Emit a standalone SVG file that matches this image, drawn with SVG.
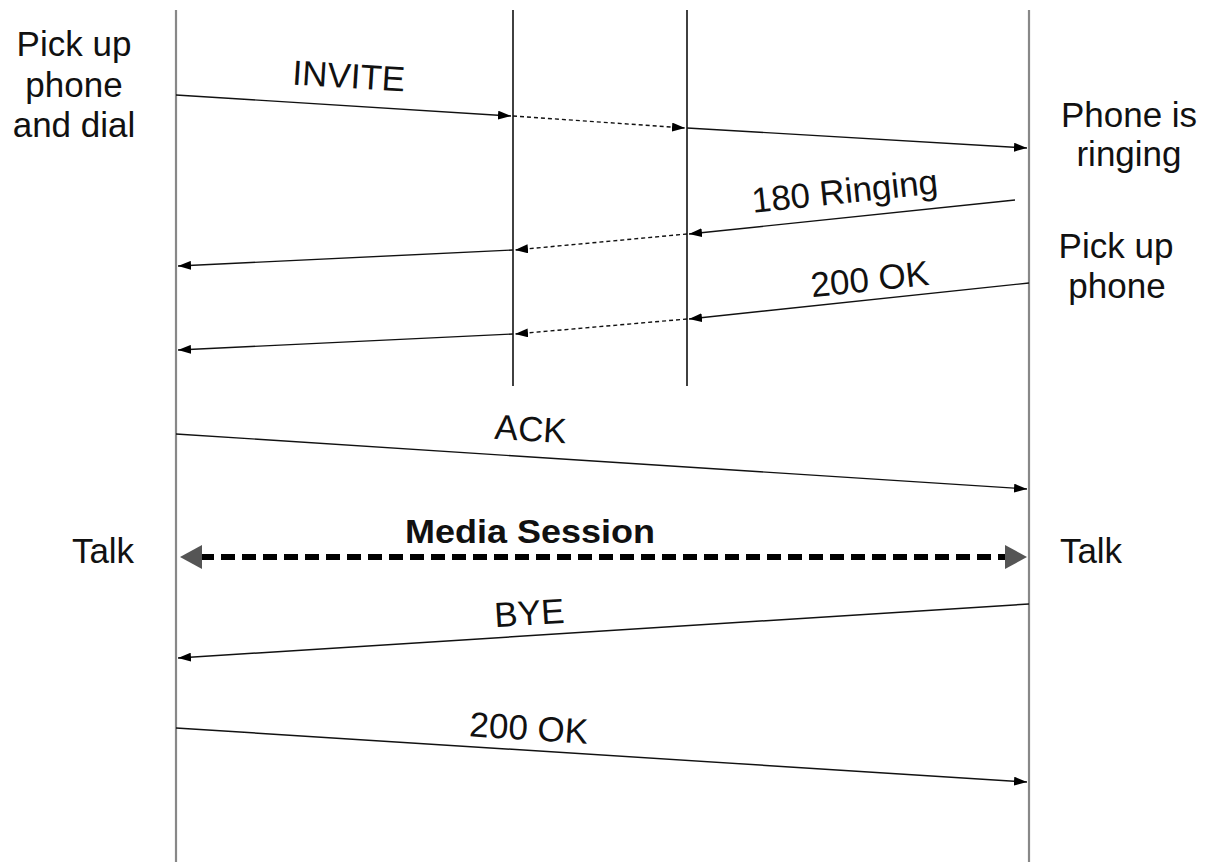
<svg xmlns="http://www.w3.org/2000/svg" width="1206" height="862" viewBox="0 0 1206 862">
<style>
text{font-family:"Liberation Sans",Arial,sans-serif;font-size:35px;fill:#111;text-anchor:middle}
.b{font-weight:bold;font-size:34px}
.lo{stroke:#888;stroke-width:2.2;fill:none}
.li{stroke:#111;stroke-width:1.6;fill:none}
.m{stroke:#111;stroke-width:1.4;fill:none;marker-end:url(#ah)}
.d{stroke:#111;stroke-width:1.4;fill:none;stroke-dasharray:4 3;marker-end:url(#ah)}
.ms{stroke:#000;stroke-width:6;fill:none;stroke-dasharray:14 7}
</style>
<defs>
<marker id="ah" markerUnits="userSpaceOnUse" markerWidth="14" markerHeight="9" refX="13" refY="4.5" orient="auto">
<path d="M0,0 L13,4.5 L0,9 z" fill="#000"/>
</marker>
</defs>
<rect width="1206" height="862" fill="#fff"/>
<g id="lifelines">
<line class="lo" x1="176" y1="10" x2="176" y2="862"/>
<line class="li" x1="513" y1="10" x2="513" y2="386"/>
<line class="li" x1="687" y1="10" x2="687" y2="386"/>
<line class="lo" x1="1029" y1="10" x2="1029" y2="862"/>
</g>
<g id="connectors">
<line class="m" x1="176" y1="95" x2="511" y2="116"/>
<line class="d" x1="513" y1="116" x2="685" y2="128"/>
<line class="m" x1="687" y1="128" x2="1027" y2="148"/>
<line class="m" x1="1015" y1="200" x2="689" y2="234"/>
<line class="d" x1="687" y1="234" x2="515" y2="250"/>
<line class="m" x1="513" y1="250" x2="178" y2="266"/>
<line class="m" x1="1029" y1="283" x2="689" y2="319"/>
<line class="d" x1="687" y1="319" x2="515" y2="334"/>
<line class="m" x1="513" y1="334" x2="178" y2="350"/>
<line class="m" x1="176" y1="434" x2="1027" y2="489"/>
<line class="ms" x1="200" y1="557" x2="1005" y2="557"/>
<path d="M180,557 L202,545 L202,569 z" fill="#555"/>
<path d="M1027,557 L1005,545 L1005,569 z" fill="#555"/>
<line class="m" x1="1029" y1="604" x2="178" y2="658"/>
<line class="m" x1="176" y1="728" x2="1027" y2="782"/>
</g>
<g id="labels">
<text transform="translate(348,88) rotate(3.6)">INVITE</text>
<text transform="translate(846,203) rotate(-6)">180 Ringing</text>
<text transform="translate(871,291) rotate(-6)">200 OK</text>
<text transform="translate(530,441) rotate(3.7)">ACK</text>
<text class="b" x="530" y="543" textLength="250" lengthAdjust="spacingAndGlyphs">Media Session</text>
<text transform="translate(530,625) rotate(-3.6)">BYE</text>
<text transform="translate(528,740) rotate(3.7)">200 OK</text>
</g>
<g id="left-notes">
<text x="74" y="56">Pick up</text>
<text x="74" y="97">phone</text>
<text x="74" y="137">and dial</text>
<text x="103" y="563">Talk</text>
</g>
<g id="right-notes">
<text x="1129" y="127">Phone is</text>
<text x="1129" y="166">ringing</text>
<text x="1116" y="258">Pick up</text>
<text x="1117" y="298">phone</text>
<text x="1091" y="563">Talk</text>
</g>
</svg>
